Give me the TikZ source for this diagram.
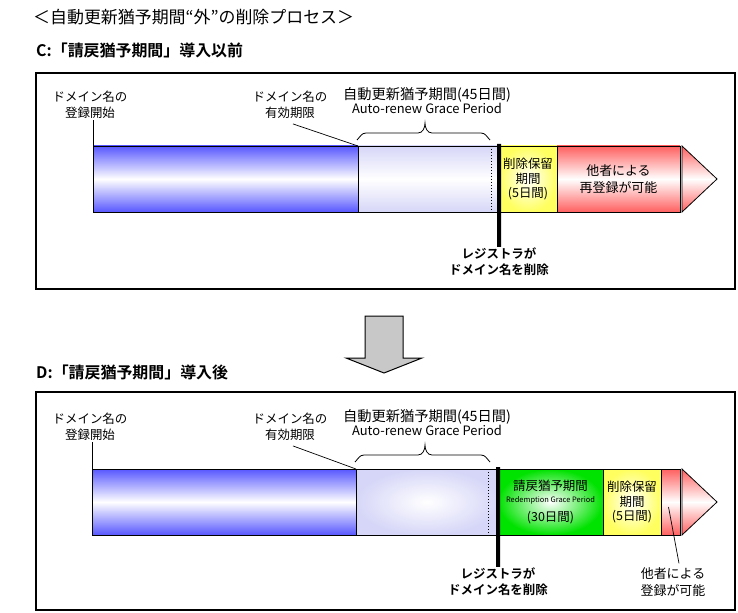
\documentclass[tikz,border=0pt]{standalone}
\usepackage{fontspec}
\setmainfont{Noto Sans CJK JP}[BoldFont={Noto Sans CJK JP Bold}]
\usetikzlibrary{positioning, calc}
\definecolor{barblue}{RGB}{88,88,255}
\definecolor{barlav}{RGB}{214,214,248}
\definecolor{bargreen}{RGB}{0,226,0}
\definecolor{baryel}{RGB}{255,255,96}
\definecolor{barred}{RGB}{255,96,96}
\definecolor{arrgray}{RGB}{200,200,200}
\tikzset{
  panel/.style={rectangle, draw, line width=1.2bp, inner sep=0pt, outer sep=0pt},
  seg/.style={rectangle, draw, line width=0.8bp, inner sep=0pt, outer sep=0pt,
              minimum height=66bp, anchor=west, align=center,
              font=\fontsize{12.5}{15}\selectfont},
  bandshade/.style={top color=#1, bottom color=#1, middle color=white},
  glowshade/.style={inner color=white, outer color=#1},
  head/.style={font=\fontsize{17}{20}\selectfont, inner sep=0pt, anchor=west},
  sub/.style={font=\bfseries\fontsize{16}{19}\selectfont, inner sep=0pt, anchor=west},
  note/.style={font=\fontsize{12.5}{16}\selectfont, align=center, inner sep=1pt},
  period/.style={align=center, inner sep=1pt},
  delnote/.style={font=\bfseries\fontsize{12.5}{16}\selectfont, align=center, inner sep=1pt},
  other/.style={font=\fontsize{13}{17}\selectfont, align=center, inner sep=1pt},
  lead/.style={line width=0.7bp},
  brc/.style={line width=0.8bp},
  delmark/.style={line width=4bp},
  dots/.style={line width=0.8bp, dash pattern=on 1bp off 2bp},
  tipshade/.style={draw, line width=0.8bp, top color=barred, bottom color=barred, middle color=white},
  bigarrow/.style={draw, line width=1bp, fill=arrgray},
}
\newcommand{\agptext}{{\fontsize{14.3}{17}\selectfont 自動更新猶予期間(45日間)}\\{\fontsize{13}{16}\selectfont Auto-renew Grace Period}}

\begin{document}
\begin{tikzpicture}[x=1bp, y=1bp]
  \useasboundingbox (0,0) rectangle (738,-613);

  \node[head] (title) at (33,-17) {＜自動更新猶予期間“外”の削除プロセス＞};

  % ---- C: before
  \node[sub] (ctitle) at (36,-50) {C:「請戻猶予期間」導入以前};
  \node[panel, minimum width=699bp, minimum height=216bp] (cpanel) at (385.5,-181) {};

  \node[seg, bandshade=barblue, minimum width=265bp] (cblue) at (93,-179) {};
  \node[seg, bandshade=barlav, minimum width=141bp, right=0pt of cblue] (cagp) {};
  \node[seg, glowshade=baryel, minimum width=58bp, right=0pt of cagp] (cydel) {削除保留\\期間\\(5日間)};
  \node[seg, bandshade=barred, minimum width=123bp, font=\fontsize{13}{17}\selectfont,
        right=0pt of cydel] (cred) {他者による\\再登録が可能};
  \path[tipshade] ($(cred.north east)+(2,0)$) -- ($(cred.east)+(37,0)$) -- ($(cred.south east)+(2,0)$) -- cycle;
  \draw[dots] ($(cagp.north east)+(-8,0)$) -- ($(cagp.south east)+(-8,0)$);

  \node[note] (cstart) at (90,-105) {ドメイン名の\\登録開始};
  \node[note] (cexp) at (290,-105) {ドメイン名の\\有効期限};
  \node[period] (cagpl) at (427,-101) {\agptext};
  \node[delnote] (cdel) at (499,-262) {レジストラが\\ドメイン名を削除};

  \draw[lead] (cblue.north west) -- (cblue.north west |- cstart.south);
  \draw[lead] ($(cexp.south)+(3,-4)$) -- (cblue.north east);
  \draw[brc] (357,-140) to[out=45, in=180] (366,-133) -- (418,-133)
    to[out=0, in=-90] (425,-123) to[out=-90, in=180] (432,-133) -- (481,-133)
    to[out=0, in=135] (490,-140);
  \draw[delmark] ($(cagp.north east)+(0,2)$) -- (cdel.north);

  % ---- arrow between
  \draw[bigarrow] (365,-316) -- (403,-316) -- (403,-358) -- (422,-358)
    -- (384,-373) -- (346,-358) -- (365,-358) -- cycle;

  % ---- D: after
  \node[sub] (dtitle) at (36,-372) {D:「請戻猶予期間」導入後};
  \node[panel, minimum width=699bp, minimum height=218bp] (dpanel) at (385.5,-501) {};

  \node[seg, bandshade=barblue, minimum width=264bp] (dblue) at (92,-502) {};
  \node[seg, glowshade=barlav, minimum width=142bp, right=0pt of dblue] (dagp) {};
  \node[seg, glowshade=bargreen, minimum width=105bp, right=0pt of dagp] (dgreen)
    {請戻猶予期間\\[-3pt]{\fontsize{7.5}{8}\selectfont Redemption Grace Period}\\[4pt](30日間)};
  \node[seg, glowshade=baryel, minimum width=58bp, right=0pt of dgreen] (dydel) {削除保留\\期間\\(5日間)};
  \node[seg, bandshade=barred, minimum width=19bp, right=0pt of dydel] (dred) {};
  \path[tipshade] ($(dred.north east)+(2,0)$) -- ($(dred.east)+(37,0)$) -- ($(dred.south east)+(2,0)$) -- cycle;
  \draw[dots] ($(dagp.north east)+(-10,0)$) -- ($(dagp.south east)+(-10,0)$);

  \node[note] (dstart) at (90,-427) {ドメイン名の\\登録開始};
  \node[note] (dexp) at (290,-427) {ドメイン名の\\有効期限};
  \node[period] (dagpl) at (427,-423) {\agptext};
  \node[delnote] (ddel) at (498,-582) {レジストラが\\ドメイン名を削除};
  \node[other] (dother) at (673,-582) {他者による\\登録が可能};

  \draw[lead] (dblue.north west) -- (dblue.north west |- dstart.south);
  \draw[lead] ($(dexp.south)+(3,-4)$) -- (dblue.north east);
  \draw[brc] (355,-462) to[out=45, in=180] (364,-455) -- (418,-455)
    to[out=0, in=-90] (425,-445) to[out=-90, in=180] (432,-455) -- (481,-455)
    to[out=0, in=135] (490,-462);
  \draw[delmark] ($(dagp.north east)+(0,2)$) -- (ddel.north);
  \draw[lead] ($(dred.center)+(-2,-5)$) -- ($(dother.north)+(6,3)$);

\end{tikzpicture}
\end{document}
